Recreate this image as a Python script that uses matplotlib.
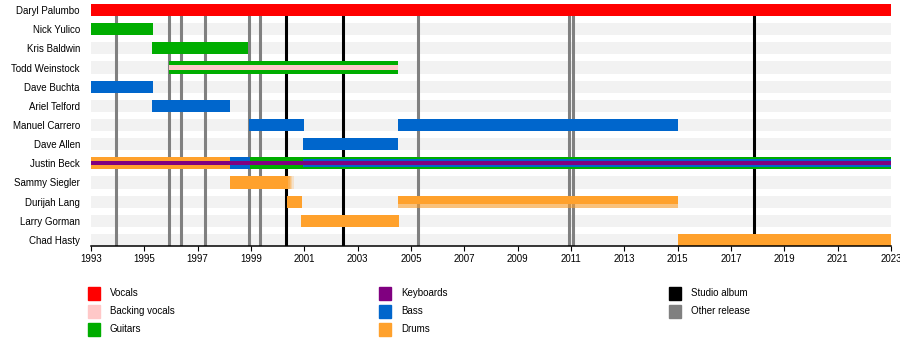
import matplotlib.pyplot as plt
from matplotlib.patches import Rectangle

plt.rcParams["font.family"] = ["Liberation Sans", "DejaVu Sans"]

# --- lineup -----------------------------------------------------------------
miembros = [
    "Daryl Palumbo", "Nick Yulico", "Kris Baldwin", "Todd Weinstock",
    "Dave Buchta", "Ariel Telford", "Manuel Carrero", "Dave Allen",
    "Justin Beck", "Sammy Siegler", "Durijah Lang", "Larry Gorman",
    "Chad Hasty",
]

# one entry per period: member, role, start, end
periodo_miembro = [
    "Daryl Palumbo",
    "Nick Yulico",
    "Kris Baldwin",
    "Todd Weinstock", "Todd Weinstock",
    "Dave Buchta",
    "Ariel Telford",
    "Manuel Carrero", "Manuel Carrero",
    "Dave Allen",
    "Justin Beck", "Justin Beck", "Justin Beck", "Justin Beck", "Justin Beck",
    "Sammy Siegler",
    "Durijah Lang", "Durijah Lang",
    "Larry Gorman",
    "Chad Hasty",
]
periodo_rol = [
    "Vocals",
    "Guitars",
    "Guitars",
    "Guitars", "Backing vocals",
    "Bass",
    "Bass",
    "Bass", "Bass",
    "Bass",
    "Drums", "Bass", "Guitars", "Bass", "Keyboards",
    "Drums",
    "Drums", "Drums",
    "Drums",
    "Drums",
]
periodo_inicio = [
    1993.0,
    1993.0,
    1995.3,
    1995.92, 1995.92,
    1993.0,
    1995.3,
    1998.94, 2004.5,
    2000.95,
    1993.0, 1998.2, 1998.95, 2000.95, 1993.0,
    1998.2,
    2000.36, 2004.5,
    2000.88,
    2015.0,
]
periodo_fin = [
    2023.0,
    1995.32,
    1998.9,
    2004.5, 2004.5,
    1995.32,
    1998.2,
    2000.99, 2015.0,
    2004.52,
    1998.2, 1998.95, 2023.0, 2023.0, 2023.0,
    2000.4,
    2000.91, 2015.0,
    2004.55,
    2023.0,
]

discos_estudio = [2000.31, 2002.46, 2017.87]
otros_lanzamientos = [1993.94, 1995.94, 1996.37, 1997.29, 1998.94,
                      1999.35, 2005.27, 2010.94, 2011.09]

# periods whose edges come out smeared in the rendered timeline
borde_difuso_derecho = [("Sammy Siegler", 2000.4)]
borde_difuso_inferior = [("Durijah Lang", 2004.5)]

colores = {
    "Vocals": "#ff0000",
    "Backing vocals": "#ffc8c8",
    "Guitars": "#00ad00",
    "Keyboards": "#800080",
    "Bass": "#0066cc",
    "Drums": "#ffa12c",
}
roles_finos = {"Backing vocals", "Keyboards"}

ANIO_INI, ANIO_FIN = 1993, 2023
ALTO = 0.63  # bar height in row units

fig = plt.figure(figsize=(9, 3.45), dpi=100)
ax = fig.add_axes([91 / 900, 1 - 246 / 345, 800 / 900, 242 / 345])

filas = {m: i for i, m in enumerate(miembros)}

# light grey track behind every row
ax.barh(range(len(miembros)), ANIO_FIN - ANIO_INI, left=ANIO_INI,
        height=ALTO, color="#f2f2f2", linewidth=0, zorder=0)

ax.vlines(otros_lanzamientos, -1, len(miembros) + 1, color="#808080",
          linewidth=2.2, zorder=1)
ax.vlines(discos_estudio, -1, len(miembros) + 1, color="black",
          linewidth=2.2, zorder=1)

# nested bars: a role overlapping an earlier one is drawn narrower
profundidad = []
for i, m in enumerate(periodo_miembro):
    d = 0
    for j in range(i):
        if (periodo_miembro[j] == m
                and periodo_inicio[j] < periodo_fin[i]
                and periodo_inicio[i] < periodo_fin[j]):
            d = max(d, profundidad[j] + 1)
    profundidad.append(d)

for m, rol, ini, fin, d in zip(periodo_miembro, periodo_rol, periodo_inicio,
                               periodo_fin, profundidad):
    if rol in roles_finos:
        frac = 0.36
    else:
        frac = 1.0 if d == 0 else 0.67
    y = filas[m]
    if (m, ini) in borde_difuso_inferior:
        ax.barh(y, fin - ini, left=ini, height=ALTO, color=colores[rol],
                alpha=0.6, linewidth=0, zorder=2 + d)
        ax.barh(y - ALTO * 0.15, fin - ini, left=ini, height=ALTO * 0.7,
                color=colores[rol], linewidth=0, zorder=2 + d)
    else:
        ax.barh(y, fin - ini, left=ini, height=ALTO * frac,
                color=colores[rol], zorder=2 + d, linewidth=0)
    if (m, fin) in borde_difuso_derecho:
        for k in range(4):
            ax.barh(y, 0.05, left=fin + k * 0.05, height=ALTO * frac,
                    color=colores[rol], alpha=0.8 - 0.2 * k, linewidth=0,
                    zorder=2 + d)

ax.set_xlim(ANIO_INI, ANIO_FIN)
ax.set_ylim(len(miembros) - 1 + ALTO / 2, -ALTO / 2)

ax.set_xticks(range(ANIO_INI, ANIO_FIN + 1, 2))
ax.tick_params(axis="x", labelsize=7, length=3.5, width=0.8, pad=2)
ax.set_yticks(range(len(miembros)), labels=miembros)
ax.tick_params(axis="y", labelsize=7, length=0, pad=8)

for lado in ("top", "right", "left"):
    ax.spines[lado].set_visible(False)
ax.spines["bottom"].set_linewidth(1.1)

# legend in three columns below the axis
leyenda = [
    ("Vocals", colores["Vocals"]),
    ("Backing vocals", colores["Backing vocals"]),
    ("Guitars", colores["Guitars"]),
    ("Keyboards", colores["Keyboards"]),
    ("Bass", colores["Bass"]),
    ("Drums", colores["Drums"]),
    ("Studio album", "black"),
    ("Other release", "#808080"),
]
col_x = [88, 379, 669]
fila_y = [293, 311, 329]
for n, (texto, color) in enumerate(leyenda):
    cx = col_x[n // 3]
    cy = fila_y[n % 3]
    fig.patches.append(Rectangle((cx / 900, 1 - (cy + 6.5) / 345),
                                 12 / 900, 13 / 345, color=color,
                                 transform=fig.transFigure, figure=fig))
    fig.text((cx + 22) / 900, 1 - cy / 345, texto, fontsize=7,
             va="center", ha="left")

fig.savefig("out.png", dpi=100)
